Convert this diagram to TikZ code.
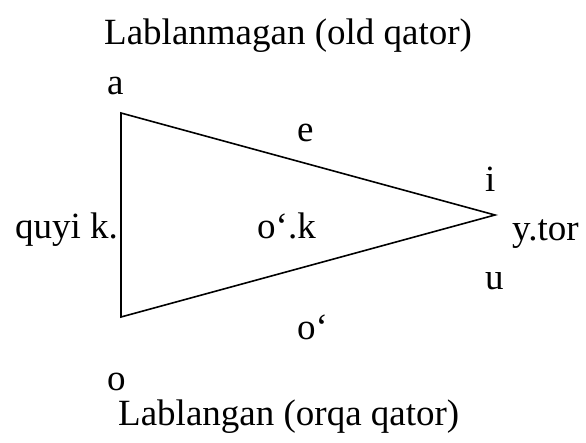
\documentclass[tikz,border=0pt]{standalone}
\usepackage{fontspec}
\setmainfont{Liberation Serif}
\begin{document}
\begin{tikzpicture}[x=1pt,y=-1pt,
  lbl/.style={inner sep=0pt, anchor=base west, font=\fontsize{37}{44}\selectfont},
  edge/.style={line width=1.6pt, line join=miter}]
\useasboundingbox (0,0) rectangle (586,443);
\coordinate (A) at (121,113);
\coordinate (T) at (495,215);
\coordinate (B) at (121,317);
\draw[edge] (A) -- (T) -- (B) -- cycle;
\node[lbl] (title1) at (104,45) {Lablanmagan (old qator)};
\node[lbl] (la) at (107,95) {a};
\node[lbl] (le) at (297,142) {e};
\node[lbl] (li) at (485,192) {i};
\node[lbl, anchor=base east] (lq) at (118,239) {quyi k.};
\node[lbl] (lok) at (257,239) {o‘.k};
\node[lbl] (ly) at (512,241) {y.tor};
\node[lbl] (lu) at (485,290) {u};
\node[lbl] (loo) at (297,340) {o‘};
\node[lbl] (lo) at (107,390) {o};
\node[lbl] (title2) at (118,425) {Lablangan (orqa qator)};
\end{tikzpicture}
\end{document}
